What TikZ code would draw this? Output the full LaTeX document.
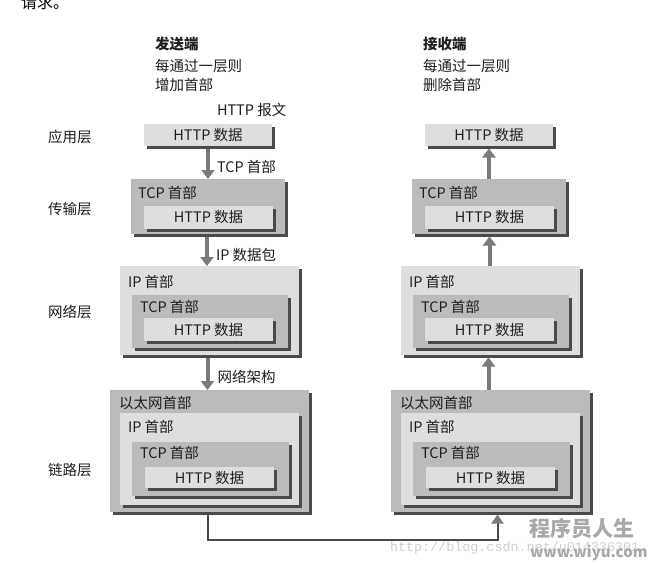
\documentclass[tikz,border=0pt]{standalone}
\usepackage{fontspec}
\setmainfont{Noto Sans CJK SC}
\newfontfamily\monofnt{Liberation Mono}
\usetikzlibrary{arrows.meta,shadows,fit,calc}
\definecolor{lightbox}{HTML}{DEDEDE}
\definecolor{darkbox}{HTML}{BBBBBB}
\definecolor{shadowc}{HTML}{4A4A4A}
\definecolor{arrowc}{HTML}{7A7A7A}
\definecolor{textc}{HTML}{1E1E1E}
\definecolor{wmA}{HTML}{A8A8A8}
\definecolor{wmB}{HTML}{D0D0D0}
\newcommand\stackcol[2]{%
  % #1 = prefix, #2 = x offset
  \node[lbox, fit={(144+#2,124) (272+#2,146)}] (#1app) {};
  \node (#1appt) at (#1app.center) {HTTP 数据};
  % transport
  \node[dbox, fit={(131+#2,179) (285+#2,234)}] (#1tcp) {};
  \node[hdr] (#1tcpl) at ([xshift=7pt,yshift=-14pt]#1tcp.north west) {TCP 首部};
  \node[lbox, fit={(144+#2,206) (273+#2,229)}] (#1tcph) {};
  \node (#1tcpht) at (#1tcph.center) {HTTP 数据};
  % network
  \node[lbox, fit={(120+#2,266) (299+#2,355)}] (#1net) {};
  \node[hdr] (#1netl) at ([xshift=8pt,yshift=-16pt]#1net.north west) {IP 首部};
  \node[dbox, fit={(132+#2,295) (288+#2,348)}] (#1nett) {};
  \node[hdr] (#1nettl) at ([xshift=8pt,yshift=-12pt]#1nett.north west) {TCP 首部};
  \node[lbox, fit={(144+#2,318) (273+#2,341)}] (#1neth) {};
  \node (#1netht) at (#1neth.center) {HTTP 数据};
  % link
  \node[dbox, fit={(110+#2,390) (309+#2,512)}] (#1eth) {};
  \node[hdr] (#1ethl) at ([xshift=9pt,yshift=-13pt]#1eth.north west) {以太网首部};
  \node[lbox, fit={(120+#2,413) (299+#2,505)}] (#1ethi) {};
  \node[hdr] (#1ethil) at ([xshift=8pt,yshift=-14pt]#1ethi.north west) {IP 首部};
  \node[dbox, fit={(132+#2,442) (289+#2,496)}] (#1etht) {};
  \node[hdr] (#1ethtl) at ([xshift=8pt,yshift=-11pt]#1etht.north west) {TCP 首部};
  \node[lbox, fit={(145+#2,467) (274+#2,488)}] (#1ethh) {};
  \node (#1ethht) at (#1ethh.center) {HTTP 数据};
}
\begin{document}
\begin{tikzpicture}[x=1pt,y=-1pt,
  every node/.style={font=\fontsize{14.5}{16}\selectfont, text=textc, inner sep=0pt, outer sep=0pt},
  pbox/.style={rectangle, draw=none, inner sep=0pt,
    drop shadow={shadow xshift=2.5pt, shadow yshift=-2.5pt, fill=shadowc, opacity=1}},
  lbox/.style={pbox, fill=lightbox},
  dbox/.style={pbox, fill=darkbox},
  hdr/.style={anchor=west},
  txt/.style={anchor=west},
  flow/.style={draw=arrowc, line width=4pt, -{Triangle[width=13pt,length=9pt]}},
  conn/.style={draw=shadowc, line width=2pt, -{Triangle[width=12pt,length=9pt,color=arrowc]}}
]
\useasboundingbox (0,0) rectangle (650,565);
\clip (0,0) rectangle (650,565);
\fill[white] (0,0) rectangle (650,565);

% cut-off text at top
\node[txt, text=black, font=\fontsize{16}{18}\selectfont] (top) at (21,2) {请求。};

% headings
\node[txt, font=\fontsize{14.5}{16}\selectfont\bfseries] (lt1) at (155,44) {发送端};
\node[txt] (lt2) at (155,66) {每通过一层则};
\node[txt] (lt3) at (155,85) {增加首部};
\node[txt, font=\fontsize{14.5}{16}\selectfont\bfseries] (rt1) at (423,44) {接收端};
\node[txt] (rt2) at (423,66) {每通过一层则};
\node[txt] (rt3) at (423,85) {删除首部};

% layer names
\node[txt] (lay1) at (48,137) {应用层};
\node[txt] (lay2) at (48,209) {传输层};
\node[txt] (lay3) at (48,312) {网络层};
\node[txt] (lay4) at (48,470) {链路层};

\node[txt] (msg) at (217,110) {HTTP 报文};

\stackcol{l}{0}
\stackcol{r}{281}

% sender arrows
\draw[flow, shorten <=2.5pt] (lapp.south) -- (lapp.south |- ltcp.north) node[txt, pos=0.55, xshift=9pt, yshift=-3pt] (a1) {TCP 首部};
\draw[flow, shorten <=2.5pt] ([xshift=-1pt]ltcp.south) -- ([xshift=-1pt]ltcp.south |- lnet.north) node[txt, pos=0.55, xshift=9pt, yshift=-3pt] (a2) {IP 数据包};
\draw[flow, shorten <=2.5pt] ([xshift=-2pt]lnet.south) -- ([xshift=-2pt]lnet.south |- leth.north) node[txt, pos=0.55, xshift=10pt, yshift=-3pt] (a3) {网络架构};

% receiver arrows
\draw[flow, shorten >=2.5pt] (rtcp.north) -- (rtcp.north |- rapp.south);
\draw[flow, shorten >=2.5pt] ([xshift=-1pt]rnet.north) -- ([xshift=-1pt]rnet.north |- rtcp.south);
\draw[flow, shorten >=2.5pt] ([xshift=-2pt]reth.north) -- ([xshift=-2pt]reth.north |- rnet.south);

% bottom connector
\draw[conn] ([xshift=-1.5pt,yshift=-2.5pt]leth.south) -- ++(0,25) -| ([xshift=7pt,yshift=-2.5pt]reth.south);

% watermark
\node[txt, text=wmB, font=\monofnt\fontsize{13.4}{15}\selectfont] (wm2) at (390,548) {http://blog.csdn.net/u014336301};
\node[txt, text=wmA, font=\fontsize{21}{23}\selectfont\bfseries] (wm1) at (529,529) {程序员人生};
\node[txt, text=wmA, font=\fontsize{15}{17}\selectfont\bfseries] (wm3) at (530,553) {www.wiyu.com};
\end{tikzpicture}
\end{document}
